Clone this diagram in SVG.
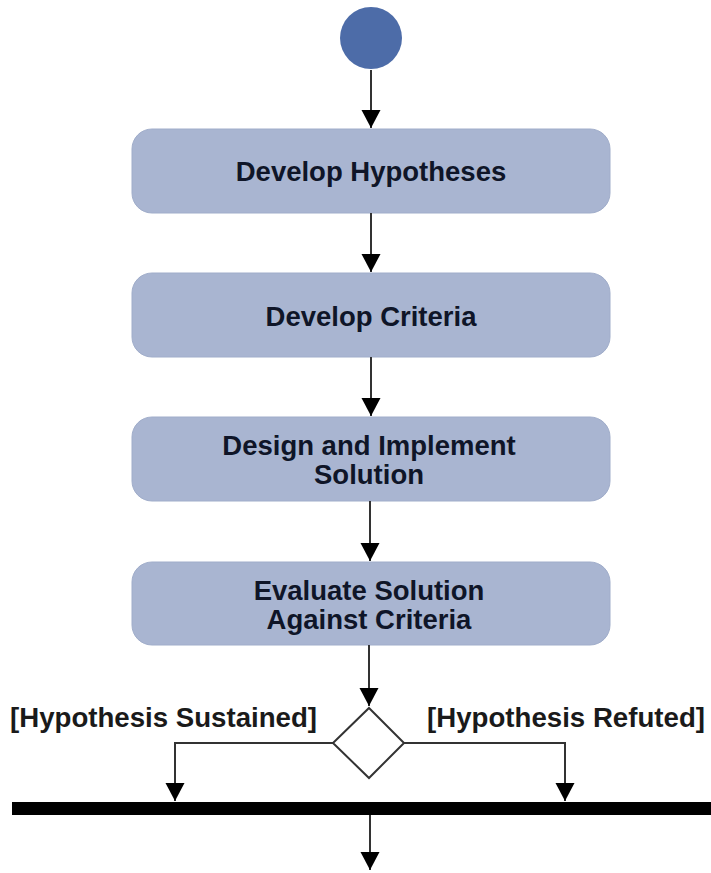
<svg xmlns="http://www.w3.org/2000/svg" width="711" height="873" viewBox="0 0 711 873">
  <style>
    .box { fill: #a9b5d1; stroke: #a0adca; stroke-width: 1; }
    .btxt { font-family: "Liberation Sans", Arial, sans-serif; font-weight: bold; font-size: 27.5px; fill: #0f1528; text-anchor: middle; }
    .lbl { font-family: "Liberation Sans", Arial, sans-serif; font-weight: bold; font-size: 27.5px; fill: #1a1a1a; }
    .conn { fill: none; stroke: #333333; stroke-width: 2; }
  </style>
  <defs>
    <marker id="arrow" markerUnits="userSpaceOnUse" markerWidth="20" markerHeight="20" viewBox="0 0 20 20" refX="18" refY="10" orient="auto">
      <path d="M0,0.5 L18,10 L0,19.5 Z" fill="#000000"/>
    </marker>
  </defs>
  <rect width="711" height="873" fill="#ffffff"/>

  <g id="start">
    <circle cx="371" cy="38" r="31" fill="#4d6ca8"/>
  </g>

  <g id="develop-hypotheses">
    <rect class="box" x="132" y="129" width="478" height="84" rx="20" ry="20"/>
    <text class="btxt" x="371" y="181">Develop Hypotheses</text>
  </g>

  <g id="develop-criteria">
    <rect class="box" x="132" y="273" width="478" height="84" rx="20" ry="20"/>
    <text class="btxt" x="371" y="326">Develop Criteria</text>
  </g>

  <g id="design-implement">
    <rect class="box" x="132" y="417" width="478" height="84" rx="20" ry="20"/>
    <text class="btxt" x="369" y="455">Design and Implement</text>
    <text class="btxt" x="369" y="484">Solution</text>
  </g>

  <g id="evaluate">
    <rect class="box" x="132" y="562" width="478" height="83" rx="20" ry="20"/>
    <text class="btxt" x="369" y="600">Evaluate Solution</text>
    <text class="btxt" x="369" y="629">Against Criteria</text>
  </g>

  <g id="decision">
    <polygon points="369,708 404,743 369,778 333,743" fill="#ffffff" stroke="#333333" stroke-width="2"/>
  </g>

  <g id="join-bar">
    <rect x="12" y="802" width="699" height="13" fill="#000000"/>
  </g>

  <g id="guard-labels">
    <text class="lbl" x="10" y="727" textLength="307" lengthAdjust="spacingAndGlyphs">[Hypothesis Sustained]</text>
    <text class="lbl" x="427" y="727" textLength="278" lengthAdjust="spacingAndGlyphs">[Hypothesis Refuted]</text>
  </g>

  <g id="connectors">
    <path class="conn" d="M371,70 L371,128" marker-end="url(#arrow)"/>
    <path class="conn" d="M371,213 L371,272" marker-end="url(#arrow)"/>
    <path class="conn" d="M371,357 L371,416" marker-end="url(#arrow)"/>
    <path class="conn" d="M370,501 L370,561" marker-end="url(#arrow)"/>
    <path class="conn" d="M369,645 L369,706" marker-end="url(#arrow)"/>
    <path class="conn" d="M333,743 L175,743 L175,801" marker-end="url(#arrow)"/>
    <path class="conn" d="M404,743 L565,743 L565,801" marker-end="url(#arrow)"/>
    <path class="conn" d="M370,815 L370,870" marker-end="url(#arrow)"/>
  </g>
</svg>
